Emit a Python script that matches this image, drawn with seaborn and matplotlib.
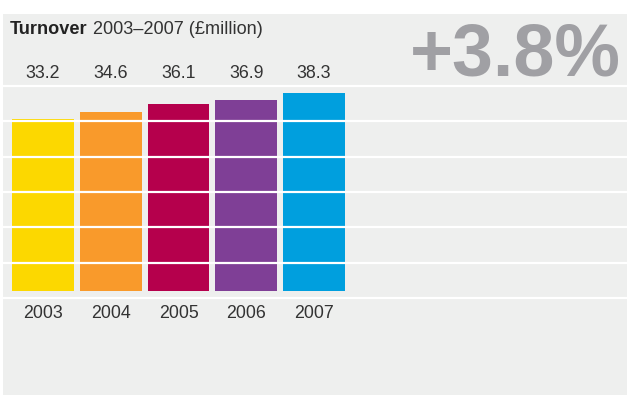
import matplotlib
matplotlib.use("Agg")
import matplotlib.pyplot as plt
import seaborn as sns
import pandas as pd
import numpy as np

# Turnover by year, £million
years = ["2003", "2004", "2005", "2006", "2007"]
turnover = [33.2, 34.6, 36.1, 36.9, 38.3]
bar_colors = ["#FCD800", "#F99A2B", "#B5004C", "#7F3F96", "#009FDE"]
growth_label = "+3.8%"

df = pd.DataFrame({"year": years, "turnover": turnover})

sns.set_theme(style="white")
plt.rcParams["font.family"] = ["Liberation Sans", "DejaVu Sans"]

W, H = 627, 396
fig = plt.figure(figsize=(W / 100, H / 100), dpi=100)
fig.patch.set_facecolor("white")

# panel placement in pixels
panel_left, panel_right, panel_top, panel_bottom = 3, 627, 14, 395
ax = fig.add_axes([panel_left / W, 1 - panel_bottom / H,
                   (panel_right - panel_left) / W, (panel_bottom - panel_top) / H])
bg = "#EEEFEE"
ax.set_facecolor(bg)

sns.barplot(data=df, x="year", y="turnover", hue="year", palette=bar_colors,
            width=0.915, legend=False, saturation=1, ax=ax, zorder=2,
            linewidth=0)

# scale: bar pitch 67.75px, first bar centre at x=43px; zero at y=291px, 5.17px per unit
pitch, x0 = 67.75, 43
y_zero, px_per_unit = 291, 5.17
ax.set_xlim((panel_left - x0) / pitch, (panel_right - x0) / pitch)
ax.set_ylim((y_zero - panel_bottom) / px_per_unit, (y_zero - panel_top) / px_per_unit)

# white rules across the panel, drawn over the bars
grid_step = 35.33 / px_per_unit
grid_start = (y_zero - 298) / px_per_unit
for k in range(7):
    ax.axhline(grid_start + k * grid_step, color="white", lw=1.6, zorder=3)

label_color = "#333333"
value_row = (y_zero - 73) / px_per_unit
year_row = (y_zero - 313.5) / px_per_unit
for i, (yr, v) in enumerate(zip(years, turnover)):
    ax.text(i, value_row, f"{v:.1f}", ha="center", va="center",
            fontsize=12.8, color=label_color, zorder=4)
    ax.text(i, year_row, yr, ha="center", va="center",
            fontsize=12.8, color=label_color, zorder=4)

ax.set_xlabel("")
ax.set_ylabel("")
ax.set_xticks([])
ax.set_yticks([])
for s in ax.spines.values():
    s.set_visible(False)

# title: bold lead word followed by regular text
t1 = fig.text(10 / W, 1 - 34 / H, "Turnover", fontsize=13.1, fontweight="bold",
              color="#222222", va="baseline", ha="left")
fig.canvas.draw()
ax.annotate(" 2003–2007 (£million)", xy=(1, 0), xycoords=t1, va="bottom",
            ha="left", fontsize=13.1, color="#333333", annotation_clip=False)

fig.text(621 / W, 1 - 75 / H, growth_label, fontsize=53, fontweight="bold",
         color="#A0A0A4", ha="right", va="baseline")

fig.savefig("out.png", dpi=100, facecolor=fig.get_facecolor())
